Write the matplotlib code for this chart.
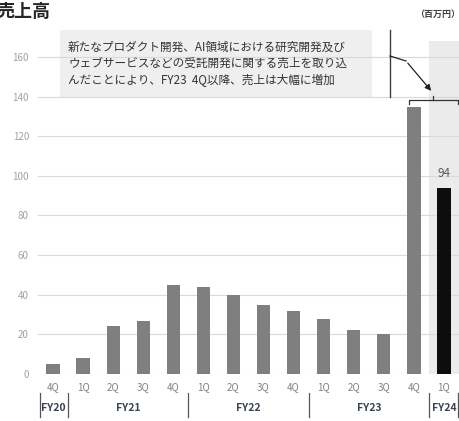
import matplotlib
matplotlib.use("Agg")
import matplotlib.pyplot as plt
import matplotlib.transforms as mtrans
from matplotlib.patches import Rectangle

plt.rcParams['font.family'] = ['Noto Sans CJK JP', 'DejaVu Sans']

quarters = ["4Q", "1Q", "2Q", "3Q", "4Q", "1Q", "2Q", "3Q", "4Q", "1Q", "2Q", "3Q", "4Q", "1Q"]
sales = [5, 8, 24, 27, 45, 44, 40, 35, 32, 28, 22, 20, 135, 94]
fiscal_years = ["FY20", "FY21", "FY22", "FY23", "FY24"]
fy_counts = [1, 4, 4, 4, 1]
yticks = [0, 20, 40, 60, 80, 100, 120, 140, 160]
note_lines = ["新たなプロダクト開発、AI領域における研究開発及び",
              "ウェブサービスなどの受託開発に関する売上を取り込",
              "んだことにより、FY23  4Q以降、売上は大幅に増加"]
title = "売上高"
unit = "（百万円）"

W, H = 460, 421
fig = plt.figure(figsize=(W / 100, H / 100), dpi=100)
ymax = 175
ax = fig.add_axes([38 / W, (H - 374) / H, 421 / W, (ymax * 1.98125) / H])
ax.set_xlim(-0.5, len(sales) - 0.5)
ax.set_ylim(0, ymax)


def px(x, y):
    return (x / W, 1 - y / H)


n = len(sales)
# grey highlight band for latest quarter
ax.add_patch(Rectangle((n - 1.5, 0), 1.0, 168, facecolor="#ebebeb", edgecolor="none", zorder=0, clip_on=False))

# annotation box (behind gridlines, as in the reference)
bx0, by0 = px(60, 97)
bx1, by1 = px(372, 30)
ax.add_patch(Rectangle((bx0, by0), bx1 - bx0, by1 - by0, transform=fig.transFigure,
                       facecolor="#efefef", edgecolor="none", zorder=0.5, clip_on=False))

for yv in yticks:
    ax.axhline(yv, color="#d9d9d9", lw=0.8, zorder=1)

colors = ["#7f7f7f"] * (n - 1) + ["#0d0d0d"]
x = list(range(n))
ax.bar(x, sales, width=0.44, color=colors, zorder=2)
ax.text(x[-1], sales[-1] + 4, str(sales[-1]), ha="center", va="bottom", fontsize=8.5, color="#595959")

for s in ax.spines.values():
    s.set_visible(False)
ax.set_yticks(yticks)
ax.set_yticklabels([str(v) for v in yticks], fontsize=7, color="#a0a0a0")
ax.set_xticks(x)
ax.set_xticklabels(quarters, fontsize=7, color="#808080")
ax.tick_params(axis="both", length=0)
ax.tick_params(axis="y", pad=6.5)
ax.tick_params(axis="x", pad=5.5)

# fiscal year labels and separators
trans = mtrans.blended_transform_factory(ax.transData, fig.transFigure)
bounds = [-0.5]
for c in fy_counts:
    bounds.append(bounds[-1] + c)
for i, fy in enumerate(fiscal_years):
    cx = (bounds[i] + bounds[i + 1]) / 2
    fig.text(cx, 1 - 408 / H, fy, transform=trans, ha="center", va="center",
             fontsize=7.5, fontweight="bold", color="#3b4454")
for b in [bounds[0] + 0.08, bounds[1], bounds[2], bounds[3], bounds[4], bounds[5] - 0.03]:
    fig.add_artist(plt.Line2D([b, b], [1 - 393 / H, 1 - 417 / H], transform=trans,
                              color="#555555", lw=0.9))

# title and unit
fig.text(*px(-4, 11), title, fontsize=13, fontweight="bold", color="#262626", ha="left", va="center")
fig.text(*px(460, 14), unit, fontsize=6.5, fontweight="bold", color="#404040", ha="right", va="center")

for i, line in enumerate(note_lines):
    fig.text(*px(68, 47 + i * 16.5), line, fontsize=8.4, color="#333333", ha="left", va="center", zorder=4)

# vertical line and connector arrow
fig.add_artist(plt.Line2D([390 / W, 390 / W], [1 - 30 / H, 1 - 97 / H], transform=fig.transFigure,
                          color="#404040", lw=1.0, zorder=4))
fig.add_artist(plt.Line2D([390 / W, 406 / W], [1 - 56 / H, 1 - 61 / H], transform=fig.transFigure,
                          color="#222222", lw=0.9, zorder=4))
ax.annotate("", xy=px(433, 93), xytext=px(406, 61), xycoords="figure fraction",
            textcoords="figure fraction",
            arrowprops=dict(arrowstyle="-|>", color="#222222", lw=0.9, mutation_scale=9), zorder=4)

# bracket over the last two bars
xl, xr = n - 2 - 0.17, n - 1 + 0.47
xm = n - 1 - 0.37
yb_top = 1 - 100 / H
yb_bot = 1 - 104 / H
fig.add_artist(plt.Line2D([xl, xl, xr, xr], [yb_bot, yb_top, yb_top, yb_bot], transform=trans,
                          color="#333333", lw=0.9))
fig.add_artist(plt.Line2D([xm, xm], [yb_top, 1 - 96 / H], transform=trans, color="#333333", lw=0.9))

fig.savefig("out.png", dpi=100)
